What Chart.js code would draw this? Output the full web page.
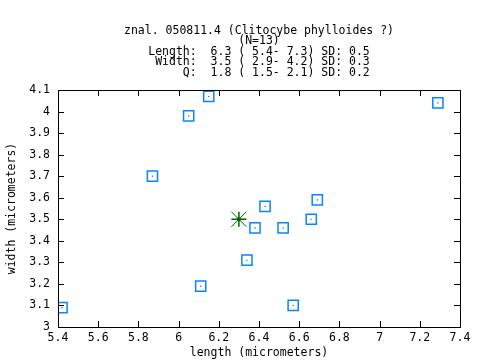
<!DOCTYPE html>
<html>
<head>
<meta charset="utf-8">
<script src="https://cdn.jsdelivr.net/npm/chart.js@4/dist/chart.umd.min.js"></script>
<style>
  body { margin: 0; background: #fff; }
  #wrap { width: 480px; height: 360px; }
</style>
</head>
<body>
<div id="wrap"><canvas id="spores" width="480" height="360"></canvas></div>
<script>
// spore measurements (micrometers)
const lengths = [5.42, 6.15, 6.05, 5.87, 6.43, 6.69, 6.38, 6.52, 6.66, 6.34, 6.11, 6.57, 7.29];
const widths  = [3.09, 4.07, 3.98, 3.70, 3.56, 3.59, 3.46, 3.46, 3.50, 3.31, 3.19, 3.10, 4.04];
const meanLength = [6.3];
const meanWidth = [3.5];

const titleLines = [
    "znal. 050811.4 (Clitocybe phylloides ?)",
    "(N=13)",
    "Length:  6.3 ( 5.4- 7.3) SD: 0.5",
    " Width:  3.5 ( 2.9- 4.2) SD: 0.3",
    "     Q:  1.8 ( 1.5- 2.1) SD: 0.2"
];
const xRange = [5.4, 7.4];
const yRange = [3.0, 4.1];
const xLabel = "length (micrometers)";
const yLabel = "width (micrometers)";

const mono = "'DejaVu Sans Mono', 'Liberation Mono', monospace";

function toPoints(xs, ys) {
    return xs.map((x, i) => ({ x: x, y: ys[i] }));
}

function fmt(v) {
    return String(Number(v.toFixed(1)));
}

// gnuplot-like frame with inward ticks on all four sides
const framePlugin = {
    id: 'frame',
    afterDatasetsDraw(chart) {
        const ctx = chart.ctx;
        const a = chart.chartArea;
        const xs = chart.scales.x;
        const ys = chart.scales.y;
        const len = 6;
        ctx.save();
        ctx.strokeStyle = '#000';
        ctx.lineWidth = 1;
        ctx.beginPath();
        xs.ticks.forEach((t, i) => {
            const px = Math.round(xs.getPixelForTick(i)) + 0.5;
            ctx.moveTo(px, a.bottom);
            ctx.lineTo(px, a.bottom - len);
            ctx.moveTo(px, a.top);
            ctx.lineTo(px, a.top + len);
        });
        ys.ticks.forEach((t, i) => {
            const py = Math.round(ys.getPixelForTick(i)) + 0.5;
            ctx.moveTo(a.left, py);
            ctx.lineTo(a.left + len, py);
            ctx.moveTo(a.right, py);
            ctx.lineTo(a.right - len, py);
        });
        ctx.stroke();
        ctx.strokeRect(Math.round(a.left) + 0.5, Math.round(a.top) + 0.5,
            Math.round(a.right - a.left), Math.round(a.bottom - a.top));
        ctx.restore();
    }
};

new Chart(document.getElementById("spores"), {
    type: 'scatter',
    data: {
        datasets: [
            {
                label: "mean",
                data: toPoints(meanLength, meanWidth),
                pointStyle: 'cross',
                pointRadius: 7.5,
                borderColor: '#006400',
                borderWidth: 1.5,
                backgroundColor: '#006400'
            },
            {
                label: "mean diag",
                data: toPoints(meanLength, meanWidth),
                pointStyle: 'crossRot',
                pointRadius: 10.6,
                borderColor: '#006400',
                borderWidth: 1,
                backgroundColor: '#006400'
            },
            {
                label: "mean dot",
                data: toPoints(meanLength, meanWidth),
                pointStyle: 'circle',
                pointRadius: 2,
                borderWidth: 0,
                backgroundColor: '#004d00'
            },
            {
                label: "spores",
                data: toPoints(lengths, widths),
                pointStyle: 'rect',
                pointRadius: 7.2,
                borderColor: '#0a84ff',
                borderWidth: 1.5,
                backgroundColor: 'rgba(0,0,0,0)'
            },
            {
                label: "spore dots",
                data: toPoints(lengths, widths),
                pointStyle: 'rect',
                pointRadius: 0.8,
                borderWidth: 0,
                backgroundColor: '#1f4f80'
            }
        ]
    },
    options: {
        responsive: false,
        animation: false,
        layout: {
            padding: { left: 0, right: 20, top: 0, bottom: 0 }
        },
        plugins: {
            legend: { display: false },
            tooltip: { enabled: false },
            title: {
                display: true,
                fullSize: false,
                text: titleLines,
                color: '#000',
                font: { family: mono, size: 11.5, weight: 'normal', lineHeight: 0.913 },
                padding: { top: 25.75, bottom: 11.75 }
            }
        },
        scales: {
            x: {
                type: 'linear',
                min: xRange[0],
                max: xRange[1],
                grid: { display: false, drawTicks: false },
                border: { display: false },
                ticks: {
                    stepSize: 0.2,
                    padding: 4,
                    color: '#000',
                    maxRotation: 0,
                    autoSkip: false,
                    font: { family: mono, size: 11.5 },
                    callback: (v) => fmt(v)
                },
                title: {
                    display: true,
                    text: xLabel,
                    color: '#000',
                    font: { family: mono, size: 11.5 },
                    padding: { top: 0, bottom: 0 }
                },
                afterFit(scale) { scale.height = 33; }
            },
            y: {
                type: 'linear',
                min: yRange[0],
                max: yRange[1],
                grid: { display: false, drawTicks: false },
                border: { display: false },
                ticks: {
                    stepSize: 0.1,
                    padding: 8,
                    color: '#000',
                    autoSkip: false,
                    font: { family: mono, size: 11.5 },
                    callback: (v) => fmt(v)
                },
                title: {
                    display: true,
                    text: yLabel,
                    color: '#000',
                    font: { family: mono, size: 11.5 },
                    padding: { top: 5, bottom: 0 }
                },
                afterFit(scale) { scale.width = 58; }
            }
        }
    },
    plugins: [framePlugin]
});
</script>
</body>
</html>
